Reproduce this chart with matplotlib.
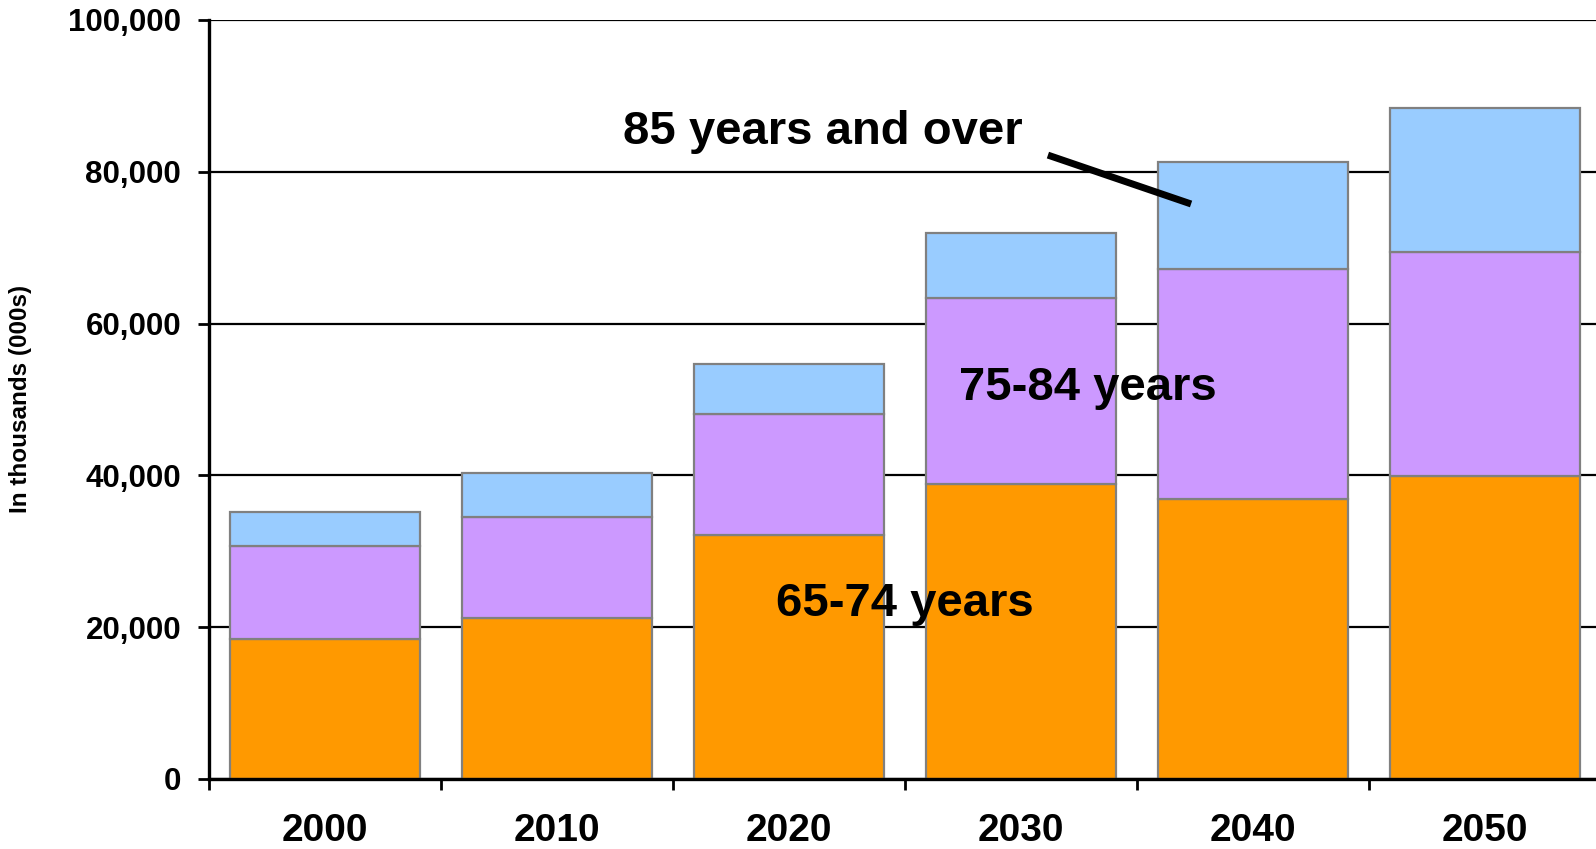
import matplotlib
matplotlib.use("Agg")
import matplotlib.pyplot as plt
import numpy as np
from matplotlib.ticker import FuncFormatter, FixedLocator

years = ["2000", "2010", "2020", "2030", "2040", "2050"]
age_65_74 = [18450, 21250, 32200, 38870, 36850, 39960]
age_75_84 = [12290, 13310, 15900, 24460, 30300, 29440]
age_85_plus = [4400, 5720, 6600, 8650, 14100, 19050]
series_labels = ["65-74 years", "75-84 years", "85 years and over"]
y_ticks = [0, 20000, 40000, 60000, 80000, 100000]

colors = ["#FF9900", "#CC99FF", "#99CCFF"]
edge = "#808080"

plt.rcParams['font.family'] = ['Liberation Sans', 'DejaVu Sans']
plt.rcParams['font.weight'] = 'bold'

fig = plt.figure(figsize=(15.96, 8.49), dpi=100)
ax = fig.add_axes([209/1596, 70/849, (1601-209)/1596, (779-20)/849])

x = np.arange(len(years))
w = 0.82
b1 = np.array(age_65_74)
b2 = b1 + np.array(age_75_84)
ax.bar(x, age_65_74, width=w, color=colors[0], edgecolor=edge, linewidth=1.6, zorder=3)
ax.bar(x, age_75_84, width=w, bottom=b1, color=colors[1], edgecolor=edge, linewidth=1.6, zorder=3)
ax.bar(x, age_85_plus, width=w, bottom=b2, color=colors[2], edgecolor=edge, linewidth=1.6, zorder=3)

ax.set_xlim(-0.5, len(years) - 0.5)
ax.set_ylim(0, 100000)

ax.yaxis.set_major_locator(FixedLocator(y_ticks))
ax.yaxis.set_major_formatter(FuncFormatter(lambda v, p: f"{int(v):,}"))
ax.tick_params(axis='y', which='major', length=8, width=2, direction='out', pad=12,
               labelsize=22.5)
for lbl in ax.get_yticklabels():
    lbl.set_fontweight('bold')

ax.set_xticks(x)
ax.set_xticklabels(years, fontsize=28, fontweight='bold')
ax.tick_params(axis='x', which='major', length=0, pad=24.5)
ax.set_xticks(np.arange(len(years)) - 0.5, minor=True)
ax.tick_params(axis='x', which='minor', length=8, width=2, direction='out')

ax.grid(axis='y', color='black', linewidth=1.6, zorder=0)
ax.set_axisbelow(True)
for s in ['top', 'right']:
    ax.spines[s].set_visible(False)
for s in ['left', 'bottom']:
    ax.spines[s].set_linewidth(2.4)
    ax.spines[s].set_zorder(4)

fig.text(21/1596, 1 - 399/849, "In thousands (000s)", rotation=90, ha='center', va='center',
         fontsize=17.5, fontweight='bold')

ax.text(1.284, 85200, series_labels[2], fontsize=34, fontweight='bold', ha='left', va='center', zorder=5)
ax.text(2.733, 51500, series_labels[1], fontsize=34, fontweight='bold', ha='left', va='center', zorder=5)
ax.text(1.944, 23100, series_labels[0], fontsize=34, fontweight='bold', ha='left', va='center', zorder=5)
ax.plot([3.116, 3.733], [82200, 75760], color='black', linewidth=5, solid_capstyle='butt', zorder=5)

fig.savefig("out.png", dpi=100)
